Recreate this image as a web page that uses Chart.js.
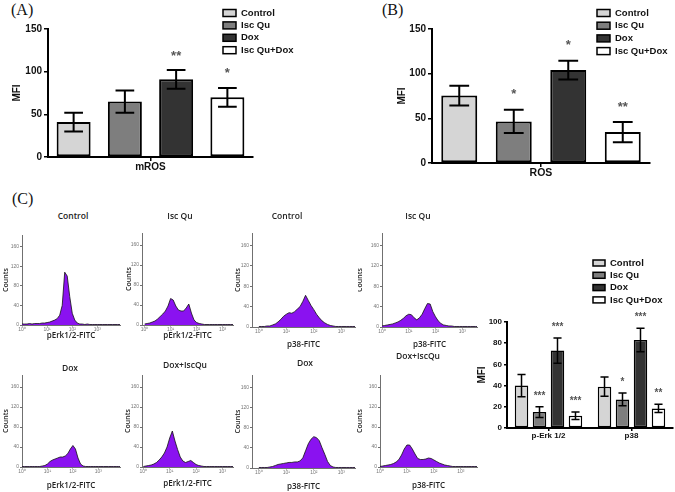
<!DOCTYPE html>
<html>
<head>
<meta charset="utf-8">
<script src="https://cdn.jsdelivr.net/npm/chart.js@4.4.0/dist/chart.umd.min.js"></script>
<style>
  body { margin: 0; background: #fff; }
  #page { position: relative; width: 675px; height: 492px; overflow: hidden; background: #fff; }
  canvas { position: absolute; }
  .tag { position: absolute; font-family: 'Liberation Serif', serif; font-size: 16px; line-height: 1; color: #111; }
  .htitle { position: absolute; font-family: 'Open Sans', sans-serif; font-weight: 600; font-size: 8.5px;
            color: #222; transform: translate(-50%, -50%); white-space: nowrap; }
</style>
</head>
<body>
<div id="page">
  <div class="tag" style="left:11px; top:2px">(A)</div>
  <div class="tag" style="left:382px; top:2px">(B)</div>
  <div class="tag" style="left:12px; top:191px">(C)</div>
  <canvas id="chart-a" width="340" height="185" style="left:0; top:0"></canvas>
  <canvas id="chart-b" width="335" height="190" style="left:340px; top:0"></canvas>
  <canvas id="chart-c" width="205" height="190" style="left:470px; top:255px"></canvas>
</div>
<script>
Chart.defaults.font.family = "'Liberation Sans', Arial, sans-serif";
Chart.defaults.animation = false;

const groupNames = ['Control', 'Isc Qu', 'Dox', 'Isc Qu+Dox'];
const groupColors = ['#d5d5d5', '#7e7e7e', '#333333', '#ffffff'];

// (A) mROS
const mrosLabels = ['mROS'];
const mrosMean = [41, 65, 91, 70];
const mrosErr = [11, 13, 11, 11];
const mrosStars = ['', '', '**', '*'];

// (B) ROS
const rosLabels = ['ROS'];
const rosMean = [75.5, 46.5, 104, 34.6];
const rosErr = [11, 13, 10.5, 11.3];
const rosStars = ['', '*', '*', '**'];

// (C) kinase MFI
const kinLabels = ['p-Erk 1/2', 'p38'];
const kinControl = [40, 39];
const kinIscQu = [15, 27];
const kinDox = [73, 83];
const kinCombo = [11.5, 18.5];
const kinControlErr = [10.5, 9];
const kinIscQuErr = [5, 6];
const kinDoxErr = [12, 11];
const kinComboErr = [3.5, 3.8];
const kinControlStars = ['', ''];
const kinIscQuStars = ['***', '*'];
const kinDoxStars = ['***', '***'];
const kinComboStars = ['***', '**'];

// flow cytometry histograms, x in decades (log10 of FITC)
const histDecades = [0, 0.1, 0.2, 0.3, 0.4, 0.5, 0.6, 0.7, 0.8, 0.9,
  1, 1.1, 1.2, 1.3, 1.4, 1.5, 1.6, 1.7, 1.8, 1.9,
  2, 2.1, 2.2, 2.3, 2.4, 2.5, 2.6, 2.7, 2.8, 2.9,
  3, 3.1, 3.2, 3.3, 3.4, 3.5, 3.6, 3.7, 3.8, 3.9];
const histTicksX = [0, 1, 2, 3];
const histTickLabelsX = ['10⁰', '10¹', '10²', '10³'];
const histTicksY = [0, 40, 80, 120, 160];

const erkControl = [2, 2, 2, 3, 2, 3, 3, 3, 4, 4, 5, 6, 8, 10, 13, 20, 40, 108, 100, 58,
  24, 10, 4, 2, 2, 1, 2, 1, 1, 1, 1, 1, 1, 1, 1, 1, 1, 1, 1, 1];
const erkIscQu = [2, 3, 4, 6, 8, 12, 17, 22, 28, 38, 53, 50, 38, 30, 28, 28, 34, 42, 24, 10,
  5, 3, 2, 1, 1, 1, 1, 1, 1, 1, 1, 1, 1, 1, 1, 1, 1, 1, 1, 1];
const p38Control = [1, 1, 1, 2, 2, 4, 6, 10, 15, 21, 25, 28, 27, 30, 35, 40, 50, 62, 52, 42,
  34, 25, 18, 12, 8, 5, 3, 2, 1, 1, 1, 1, 1, 1, 1, 1, 1, 1, 1, 1];
const p38IscQu = [2, 3, 4, 5, 6, 8, 10, 13, 17, 22, 25, 24, 18, 14, 18, 25, 36, 46, 45, 30,
  20, 12, 7, 4, 3, 2, 2, 1, 1, 1, 1, 1, 1, 1, 1, 1, 1, 1, 1, 1];
const erkDox = [1, 1, 1, 1, 1, 1, 1, 1, 2, 3, 6, 11, 14, 16, 18, 20, 20, 22, 27, 36,
  43, 36, 18, 6, 2, 1, 1, 1, 1, 1, 1, 1, 1, 1, 1, 1, 1, 1, 1, 1];
const erkCombo = [1, 2, 3, 4, 6, 9, 14, 20, 28, 40, 58, 72, 52, 35, 20, 12, 9, 11, 13, 9,
  5, 3, 2, 1, 1, 1, 1, 1, 1, 1, 1, 1, 1, 1, 1, 1, 1, 1, 1, 1];
const p38Dox = [1, 1, 1, 1, 2, 3, 5, 7, 8, 9, 10, 11, 11, 12, 12, 14, 20, 34, 48, 57,
  62, 60, 54, 40, 27, 13, 5, 2, 1, 1, 1, 1, 1, 1, 1, 1, 1, 1, 1, 1];
const p38Combo = [1, 2, 3, 4, 5, 7, 10, 15, 24, 36, 44, 44, 36, 26, 17, 15, 15, 16, 18, 17,
  14, 11, 8, 6, 4, 3, 2, 1, 1, 1, 1, 1, 1, 1, 1, 1, 1, 1, 1, 1];

const histFill = 'rgb(138, 18, 240)';

// error bars, stars and the boxed legend (Prism style)
const barExtras = {
  id: 'barExtras',
  afterDatasetsDraw(chart, args, opts) {
    const { ctx } = chart;
    const y = chart.scales.y;
    chart.data.datasets.forEach((ds, di) => {
      chart.getDatasetMeta(di).data.forEach((bar, i) => {
        const top = y.getPixelForValue(ds.data[i] + ds.err[i]);
        const bot = y.getPixelForValue(ds.data[i] - ds.err[i]);
        const cap = bar.width * opts.cap / 2;
        ctx.save();
        ctx.strokeStyle = '#000';
        ctx.lineWidth = opts.lineWidth;
        ctx.beginPath();
        ctx.moveTo(bar.x, top); ctx.lineTo(bar.x, bot);
        ctx.moveTo(bar.x - cap, top); ctx.lineTo(bar.x + cap, top);
        ctx.moveTo(bar.x - cap, bot); ctx.lineTo(bar.x + cap, bot);
        ctx.stroke();
        if (ds.stars[i]) {
          ctx.fillStyle = '#555';
          ctx.font = opts.starFont;
          ctx.textAlign = 'center';
          ctx.textBaseline = 'middle';
          ctx.fillText(ds.stars[i], bar.x, top - opts.starGap);
        }
        ctx.restore();
      });
    });
  },
  afterDraw(chart, args, opts) {
    const { ctx } = chart;
    const lg = opts.legend;
    ctx.save();
    ctx.font = `bold ${lg.size}px 'Liberation Sans', Arial, sans-serif`;
    chart.data.datasets.forEach((ds, i) => {
      const cy = lg.y + i * lg.gap;
      ctx.fillStyle = ds.backgroundColor;
      ctx.fillRect(lg.x, cy - lg.h / 2, lg.w, lg.h);
      ctx.strokeStyle = '#000';
      ctx.lineWidth = 1.5;
      ctx.strokeRect(lg.x, cy - lg.h / 2, lg.w, lg.h);
      ctx.fillStyle = '#111';
      ctx.textAlign = 'left';
      ctx.textBaseline = 'middle';
      ctx.fillText(ds.label, lg.textX, cy);
    });
    ctx.restore();
  }
};

function barPanel(id, labels, series, cfg) {
  return new Chart(document.getElementById(id), {
    type: 'bar',
    data: {
      labels,
      datasets: series.map((s, i) => ({
        label: groupNames[i],
        data: s.mean,
        err: s.err,
        stars: s.stars,
        backgroundColor: groupColors[i],
        borderColor: '#000',
        borderWidth: cfg.barBorder,
        borderSkipped: false,
        barPercentage: cfg.barPct,
        categoryPercentage: cfg.catPct,
      })),
    },
    options: {
      responsive: false,
      layout: { padding: cfg.padding },
      plugins: { legend: { display: false }, tooltip: { enabled: false }, barExtras: cfg.extras },
      scales: {
        x: {
          grid: { offset: false, drawOnChartArea: false, tickLength: cfg.tick, color: '#000', lineWidth: 1.5 },
          border: { color: '#000', width: 2 },
          ticks: { font: { size: cfg.xFont, weight: 'bold' }, color: '#111', padding: 0 },
          afterFit: (s) => { s.height = cfg.xHeight; },
        },
        y: {
          min: 0,
          max: cfg.yMax,
          ticks: { stepSize: cfg.yStep, font: { size: cfg.yFont, weight: 'bold' }, color: '#111', padding: 2 },
          grid: { drawOnChartArea: false, tickLength: cfg.tick, color: '#000', lineWidth: 1.5 },
          border: { color: '#000', width: 2 },
          title: { display: true, text: 'MFI', color: '#111', font: { size: 10, weight: 'bold' },
                   padding: { top: cfg.titlePad, bottom: 0 } },
          afterFit: (s) => { s.width = cfg.yWidth; },
        },
      },
    },
    plugins: [barExtras],
  });
}

barPanel('chart-a', mrosLabels,
  groupNames.map((g, i) => ({ mean: [mrosMean[i]], err: [mrosErr[i]], stars: [mrosStars[i]] })),
  {
    padding: { left: 0, top: 29, right: 87, bottom: 0 }, yWidth: 48, xHeight: 28, titlePad: 11,
    yMax: 150, yStep: 50, yFont: 10, xFont: 10, tick: 4, barBorder: 2, barPct: 0.663, catPct: 1,
    extras: { cap: 0.55, lineWidth: 2, starFont: "bold 13px 'Liberation Sans'", starGap: 14,
              legend: { x: 223, y: 13, gap: 12.4, w: 13, h: 7, textX: 241, size: 9.5 } },
  });

barPanel('chart-b', rosLabels,
  groupNames.map((g, i) => ({ mean: [rosMean[i]], err: [rosErr[i]], stars: [rosStars[i]] })),
  {
    padding: { left: 0, top: 29, right: 25, bottom: 0 }, yWidth: 92, xHeight: 27, titlePad: 56,
    yMax: 150, yStep: 50, yFont: 10, xFont: 10.5, tick: 4, barBorder: 2, barPct: 0.66, catPct: 1,
    extras: { cap: 0.55, lineWidth: 2, starFont: "bold 13px 'Liberation Sans'", starGap: 15,
              legend: { x: 257, y: 13, gap: 12.7, w: 13, h: 7, textX: 275, size: 9.5 } },
  });

barPanel('chart-c', kinLabels,
  [
    { mean: kinControl, err: kinControlErr, stars: kinControlStars },
    { mean: kinIscQu, err: kinIscQuErr, stars: kinIscQuStars },
    { mean: kinDox, err: kinDoxErr, stars: kinDoxStars },
    { mean: kinCombo, err: kinComboErr, stars: kinComboStars },
  ],
  {
    padding: { left: 0, top: 67, right: 2, bottom: 0 }, yWidth: 37, xHeight: 17, titlePad: 6,
    yMax: 100, yStep: 20, yFont: 8, xFont: 8, tick: 3, barBorder: 1.5, barPct: 0.75, catPct: 0.867,
    extras: { cap: 0.6, lineWidth: 1.5, starFont: "bold 10px 'Liberation Sans'", starGap: 11,
              legend: { x: 123, y: 8, gap: 12.3, w: 12, h: 6, textX: 140, size: 9.5 } },
  });

// histogram grid: chart area box, title centre and x-title line for each panel
const histPanels = [
  { title: 'Control', xTitle: 'pErk1/2-FITC', data: erkControl, L: 22, R: 120, T: 235, B: 325, titleX: 73, titleY: 215, xTitleY: 336, countsX: 6, xMin: 0, xMax: 3.9 },
  { title: 'Isc Qu', xTitle: 'pErk1/2-FITC', data: erkIscQu, L: 142, R: 233, T: 233, B: 325, titleX: 180, titleY: 215, xTitleY: 336, countsX: 129, xMin: -0.1, xMax: 3.4 },
  { title: 'Control', xTitle: 'p38-FITC', data: p38Control, L: 252, R: 355, T: 233, B: 327, titleX: 287, titleY: 215, xTitleY: 345, countsX: 238, xMin: -0.25, xMax: 3.5 },
  { title: 'Isc Qu', xTitle: 'p38-FITC', data: p38IscQu, L: 382, R: 477, T: 233, B: 327, titleX: 418, titleY: 215, xTitleY: 345, countsX: 360, xMin: 0, xMax: 3.55 },
  { title: 'Dox', xTitle: 'pErk1/2-FITC', data: erkDox, L: 22, R: 120, T: 375, B: 467, titleX: 70, titleY: 367, xTitleY: 486, countsX: 6, xMin: 0, xMax: 3.85 },
  { title: 'Dox+IscQu', xTitle: 'pErk1/2-FITC', data: erkCombo, L: 142, R: 233, T: 375, B: 467, titleX: 185, titleY: 364, xTitleY: 484, countsX: 128, xMin: -0.05, xMax: 3.4 },
  { title: 'Dox', xTitle: 'p38-FITC', data: p38Dox, L: 252, R: 355, T: 375, B: 468, titleX: 305, titleY: 362, xTitleY: 487, countsX: 238, xMin: -0.25, xMax: 3.5 },
  { title: 'Dox+IscQu', xTitle: 'p38-FITC', data: p38Combo, L: 380, R: 477, T: 375, B: 467, titleX: 418, titleY: 355, xTitleY: 486, countsX: 360, xMin: 0, xMax: 3.6 },
];

const page = document.getElementById('page');

histPanels.forEach((p) => {
  const left = p.L - 24, top = p.T - 6;
  const width = p.R - p.L + 30, height = p.xTitleY + 7 - top;
  const cv = document.createElement('canvas');
  cv.width = width; cv.height = height;
  cv.style.left = left + 'px'; cv.style.top = top + 'px';
  page.appendChild(cv);

  const t = document.createElement('div');
  t.className = 'htitle';
  t.textContent = p.title;
  t.style.left = p.titleX + 'px'; t.style.top = p.titleY + 'px';
  page.appendChild(t);

  const axisGrey = '#707070';
  new Chart(cv, {
    type: 'line',
    data: {
      labels: histDecades,
      datasets: [{
        data: p.data, fill: 'origin', backgroundColor: histFill,
        borderColor: '#111', borderWidth: 0.8, pointRadius: 0, tension: 0,
      }],
    },
    options: {
      responsive: false,
      layout: { padding: { left: 0, top: 6, right: 6, bottom: 0 } },
      plugins: { legend: { display: false }, tooltip: { enabled: false } },
      scales: {
        x: {
          type: 'linear', min: p.xMin, max: p.xMax,
          afterBuildTicks: (s) => { s.ticks = histTicksX.map((v) => ({ value: v })); },
          ticks: { callback: (v) => histTickLabelsX[histTicksX.indexOf(v)], font: { size: 5 },
                   color: '#777', padding: 0, maxRotation: 0, autoSkip: false },
          grid: { drawOnChartArea: false, tickLength: 1.5, color: axisGrey },
          border: { color: axisGrey, width: 1 },
          title: { display: true, text: p.xTitle, color: '#222',
                   font: { family: "'Open Sans', sans-serif", size: 8, weight: '600' },
                   padding: { top: 0, bottom: 2 } },
          afterFit: (s) => { s.height = top + height - p.B; },
        },
        y: {
          min: 0, max: 184,
          afterBuildTicks: (s) => { s.ticks = histTicksY.map((v) => ({ value: v })); },
          ticks: { font: { size: 5 }, color: '#777', padding: 1 },
          grid: { drawOnChartArea: false, tickLength: 2, color: axisGrey },
          border: { color: axisGrey, width: 1 },
          title: { display: true, text: 'Counts', color: '#222',
                   font: { family: "'Open Sans', sans-serif", size: 7, weight: '600' },
                   padding: { top: p.countsX - left - 4.2, bottom: 0 } },
          afterFit: (s) => { s.width = 24; },
        },
      },
    },
  });
});
</script>
</body>
</html>
